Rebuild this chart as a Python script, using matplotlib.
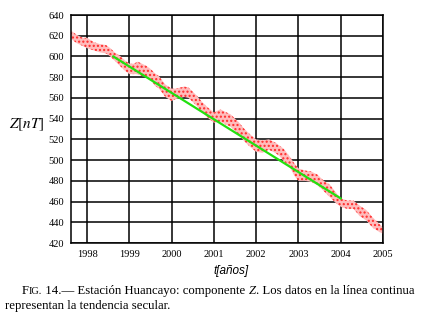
import matplotlib
matplotlib.use("Agg")
import matplotlib.pyplot as plt

# Huancayo Z component (centre of the scatter cloud and its half-width)
t = [1997.62, 1997.75, 1997.9, 1998.0, 1998.15, 1998.3, 1998.45, 1998.55, 1998.65,
     1998.8, 1998.9, 1999.0, 1999.1, 1999.2, 1999.3, 1999.4, 1999.5, 1999.6, 1999.7,
     1999.85, 2000.0, 2000.1, 2000.2, 2000.3, 2000.4, 2000.5, 2000.6, 2000.7, 2000.85,
     2001.0, 2001.15, 2001.3, 2001.4, 2001.5, 2001.6, 2001.7, 2001.85, 2002.0, 2002.15,
     2002.3, 2002.45, 2002.55, 2002.65, 2002.8, 2002.9, 2003.0, 2003.15, 2003.3, 2003.45,
     2003.6, 2003.75, 2003.9, 2004.0, 2004.15, 2004.3, 2004.45, 2004.6, 2004.75, 2004.9,
     2005.0]
z = [621, 617, 614, 613, 610, 608, 607, 604, 600,
     595, 591, 588, 588, 589, 587, 586, 583, 578, 575,
     567, 563, 564, 565, 566, 565, 561, 557, 552, 546,
     541, 543, 540, 538, 534, 530, 525, 519, 514, 513,
     515, 512, 509, 505, 498, 491, 486, 485, 484, 481,
     475, 470, 463, 459, 457, 457, 451, 447, 440, 435,
     432]
dz = [4, 4, 4, 5, 4, 4, 4, 4, 4,
      5, 5, 5, 5, 6, 6, 5, 5, 6, 6,
      6, 6, 5, 5, 5, 5, 5, 5, 5, 5,
      5, 6, 6, 6, 6, 6, 6, 6, 6, 6,
      5, 5, 5, 6, 5, 6, 6, 5, 5, 5,
      5, 6, 5, 4, 4, 4, 5, 5, 5, 4,
      3]

# secular trend (green line)
trend_t = [1998.62, 2004.0]
trend_z = [600, 463]

years = [1998, 1999, 2000, 2001, 2002, 2003, 2004, 2005]
zticks = [420, 440, 460, 480, 500, 520, 540, 560, 580, 600, 620, 640]

plt.rcParams['mathtext.fontset'] = 'stix'
plt.rcParams['hatch.color'] = '#ff2a2a'
plt.rcParams['hatch.linewidth'] = 1.0
serif = 'Liberation Serif'

fig = plt.figure(figsize=(4.24, 3.17), dpi=100)
ax = fig.add_axes([0.1675, 0.2334, 0.7358, 0.7192])

lo = [a - b for a, b in zip(z, dz)]
hi = [a + b for a, b in zip(z, dz)]
ax.fill_between(t, lo, hi, facecolor='#ffbcbc', edgecolor='#ff2a2a', hatch='....',
                lw=0, zorder=2)
ax.plot(trend_t, trend_z, color='#22e010', lw=1.6, zorder=4)

ax.set_xlim(1997.62, 2005)
ax.set_ylim(420, 640)
ax.set_xticks(years)
ax.set_yticks(zticks)
ax.grid(True, color='black', lw=1.1)
ax.set_axisbelow(True)
for s in ax.spines.values():
    s.set_color('black')
    s.set_linewidth(1.1)
ax.tick_params(length=0, pad=5, labelsize=7.5)
for lab in ax.get_xticklabels() + ax.get_yticklabels():
    lab.set_fontfamily(serif)

fig.text(0.064, 0.606, r'$Z[nT]$', fontsize=11, ha='center', va='center')
fig.text(0.545, 0.145, 't[años]', fontsize=8.5, style='italic',
         family='Liberation Sans', ha='center', va='center')

# caption with small caps "Fig."
y1 = 0.071
fs = 9.2
cap = dict(family=serif, va='baseline')
p = fig.text(0.052, y1, 'F', fontsize=fs, **cap)
p = ax.annotate('IG.', xy=(1, y1), xycoords=(p, 'figure fraction'), fontsize=fs * 0.8, **cap)
p = ax.annotate(' 14.— Estación Huancayo: componente ', xy=(1, y1),
                xycoords=(p, 'figure fraction'), fontsize=fs, **cap)
p = ax.annotate('Z', xy=(1, y1), xycoords=(p, 'figure fraction'), fontsize=fs,
                style='italic', **cap)
ax.annotate('. Los datos en la línea continua', xy=(1, y1),
            xycoords=(p, 'figure fraction'), fontsize=fs, **cap)
fig.text(0.012, 0.026, 'representan la tendencia secular.', fontsize=fs, **cap)

fig.savefig('out.png', dpi=100)
